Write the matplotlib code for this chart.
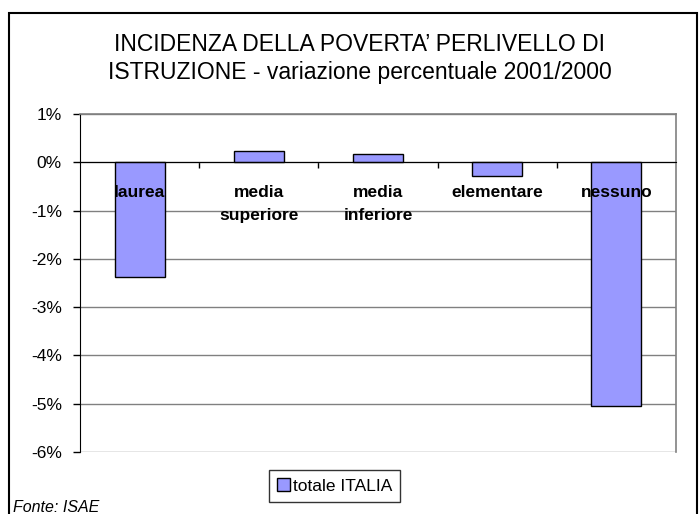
import numpy as np
import matplotlib
matplotlib.use("Agg")
import matplotlib.pyplot as plt
from matplotlib.patches import Rectangle

plt.rcParams["font.family"] = ["Liberation Sans", "DejaVu Sans"]

categories = ["laurea", "media\nsuperiore", "media\ninferiore", "elementare", "nessuno"]
values = [-2.38, 0.23, 0.17, -0.29, -5.05]  # variazione % 2001/2000
yticks = [1, 0, -1, -2, -3, -4, -5, -6]
series_name = "totale ITALIA"
title = "INCIDENZA DELLA POVERTA\u2019 PERLIVELLO DI\nISTRUZIONE - variazione percentuale 2001/2000"

fig = plt.figure(figsize=(6.99, 5.14), dpi=100)
ax = fig.add_axes([0.1144, 0.1206, 0.8526, 0.6576])

x = np.arange(len(categories))
bars = ax.bar(x, values, width=0.42, color="#9999FF", edgecolor="black",
              linewidth=1.0, label=series_name, zorder=3)

ax.set_xlim(-0.5, len(categories) - 0.5)
ax.set_ylim(-6, 1)
ax.set_yticks(yticks)
ax.set_yticklabels([f"{v}%" for v in yticks], fontsize=12.5)
ax.tick_params(axis="y", direction="out", length=5, width=1, pad=8)
ax.yaxis.grid(True, color="#808080", linewidth=1.0, zorder=0)

# category axis crosses at 0
ax.spines["bottom"].set_position(("data", 0))
ax.spines["bottom"].set_color("black")
ax.spines["bottom"].set_zorder(4)
ax.spines["left"].set_color("black")
ax.spines["top"].set_color("#808080")
ax.spines["right"].set_color("#808080")
for s in ("top", "right"):
    ax.spines[s].set_linewidth(1.2)

# ticks between categories, labels drawn on top of the bars
ax.set_xticks(np.arange(0.5, len(categories) - 1, 1.0))
ax.set_xticklabels([])
ax.tick_params(axis="x", direction="out", length=4, width=1)
for xi, name in zip(x, categories):
    ax.annotate(name, xy=(xi, 0), xytext=(0, -16), textcoords="offset points",
                ha="center", va="top", fontsize=12.5, fontweight="bold",
                linespacing=1.7, zorder=6)

fig.text(0.515, 0.886, title, ha="center", va="center", fontsize=16.5,
         linespacing=1.28)

leg = fig.legend(handles=[bars], labels=[series_name], loc="center",
                 bbox_to_anchor=(0.4785, 0.0545), fontsize=12.5, frameon=True,
                 fancybox=False, edgecolor="black", handlelength=0.75,
                 handleheight=0.75, handletextpad=0.2, borderpad=0.45)
leg.get_frame().set_linewidth(1.0)

fig.text(0.019, 0.012, "Fonte: ISAE", fontsize=11.5, style="italic", ha="left",
         va="center")

fig.patches.append(Rectangle((0.013, -0.05), 0.984, 1.025, transform=fig.transFigure,
                             fill=False, edgecolor="black", linewidth=1.5))

fig.savefig("out.png", dpi=100)
